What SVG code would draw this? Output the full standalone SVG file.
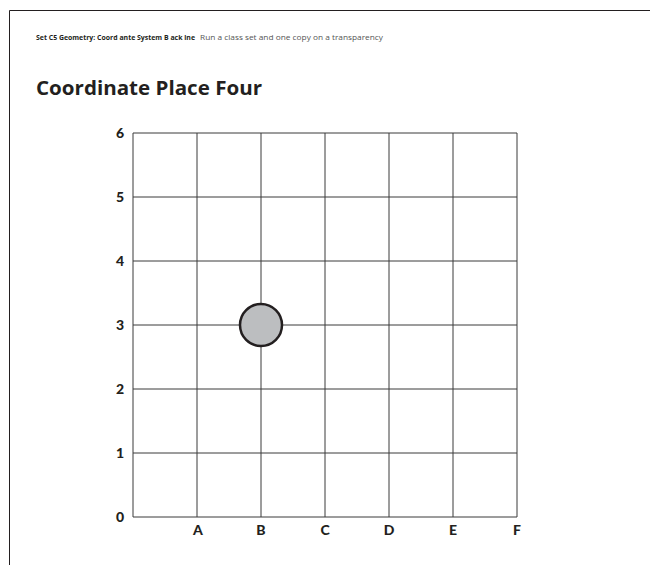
<svg xmlns="http://www.w3.org/2000/svg" width="650" height="565" viewBox="0 0 650 565">
<style>
.hdr{font-family:"Open Sans","Liberation Sans",sans-serif;font-size:7.5px}
.title{font-family:"Open Sans","Liberation Sans",sans-serif;font-weight:bold;font-size:19px;fill:#231f20}
.lbl{font-family:"Lato","Liberation Sans",sans-serif;font-weight:900;font-size:14px;fill:#231f20}
.grid line{stroke:#3a3a3a;stroke-width:1}
</style>
<rect width="650" height="565" fill="#fff"/>
<path d="M9.5 565 V10.5 H650" fill="none" stroke="#231f20" stroke-width="1"/>
<text class="hdr" x="36" y="40" font-weight="bold" fill="#231f20" textLength="159" lengthAdjust="spacingAndGlyphs">Set C5 Geometry: Coord ante System B ack ine</text>
<text class="hdr" x="200" y="40" fill="#555" textLength="183" lengthAdjust="spacingAndGlyphs">Run a class set and one copy on a transparency</text>
<text class="title" x="36" y="95" textLength="226" lengthAdjust="spacingAndGlyphs">Coordinate Place Four</text>
<g id="grid" class="grid">
<line x1="133" y1="133" x2="133" y2="517"/>
<line x1="197" y1="133" x2="197" y2="517"/>
<line x1="261" y1="133" x2="261" y2="517"/>
<line x1="325" y1="133" x2="325" y2="517"/>
<line x1="389" y1="133" x2="389" y2="517"/>
<line x1="453" y1="133" x2="453" y2="517"/>
<line x1="517" y1="133" x2="517" y2="517"/>
<line x1="133" y1="133" x2="517" y2="133"/>
<line x1="133" y1="197" x2="517" y2="197"/>
<line x1="133" y1="261" x2="517" y2="261"/>
<line x1="133" y1="325" x2="517" y2="325"/>
<line x1="133" y1="389" x2="517" y2="389"/>
<line x1="133" y1="453" x2="517" y2="453"/>
<line x1="133" y1="517" x2="517" y2="517"/>
</g>
<g id="ylabels" class="lbl" text-anchor="end">
<text x="124" y="138">6</text>
<text x="124" y="202">5</text>
<text x="124" y="266">4</text>
<text x="124" y="330">3</text>
<text x="124" y="394">2</text>
<text x="124" y="458">1</text>
<text x="124" y="522">0</text>
</g>
<g id="xlabels" class="lbl" text-anchor="middle">
<text x="198" y="535">A</text>
<text x="261" y="535">B</text>
<text x="325" y="535">C</text>
<text x="389" y="535">D</text>
<text x="453" y="535">E</text>
<text x="517" y="535">F</text>
</g>
<g id="marker">
<circle cx="261" cy="325" r="21" fill="#bcbec0" stroke="#231f20" stroke-width="2.5"/>
</g>
</svg>
